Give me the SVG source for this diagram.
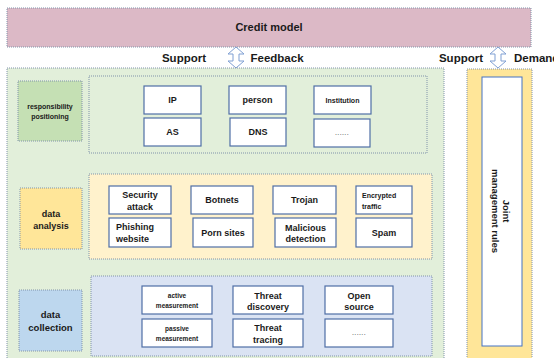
<svg xmlns="http://www.w3.org/2000/svg" width="554" height="358" viewBox="0 0 554 358">
<style>
text{font-family:"Liberation Sans",Arial,sans-serif;font-weight:bold;fill:#1a1a1a;text-anchor:middle}
.dot{stroke:#8093aa;stroke-width:1;stroke-dasharray:1 1}
.box{fill:#fff;stroke:#4f6ea6;stroke-width:1.2}
.arrow{fill:#fff;stroke:#7f9fd3;stroke-width:1}
.ell{font-size:7px;font-weight:normal;letter-spacing:0.4px;fill:#333}
.s7{font-size:7px}.s65{font-size:6.5px}.s9{font-size:9px}.s95{font-size:9.5px}.s11{font-size:11px}.s115{font-size:11.5px}
</style>
<rect width="554" height="358" fill="#fff"/>
<g id="credit-model">
<rect x="7" y="8" width="524" height="39" fill="#dcb9c6" class="dot"/>
<text x="269" y="31" class="s11">Credit model</text>
</g>
<g id="connectors">
<path class="arrow" d="M236,47 L244,54 L239,54 L239,61 L244,61 L236,68 L228,61 L233,61 L233,54 L228,54 Z"/>
<path class="arrow" d="M498,47 L506,54 L501,54 L501,61 L506,61 L498,68 L490,61 L495,61 L495,54 L490,54 Z"/>
<text x="184" y="62" class="s115">Support</text>
<text x="277" y="62" class="s115">Feedback</text>
<text x="461" y="62" class="s115">Support</text>
<text x="514" y="62" class="s115" style="text-anchor:start">Demand</text>
</g>
<g id="main-panel">
<rect x="7" y="68" width="437" height="296" fill="#e2efda" class="dot"/>
</g>
<g id="responsibility-positioning">
<rect x="89" y="76" width="338" height="77" fill="#e2efda" class="dot"/>
<rect x="18" y="81" width="64" height="60" fill="#c5e0b4" class="dot"/>
<text x="50" y="109" class="s7">responsibility</text>
<text x="50" y="119" class="s7">positioning</text>
<rect class="box" x="144" y="86" width="57" height="28"/><text x="172.5" y="103" class="s9">IP</text>
<rect class="box" x="229" y="86" width="57" height="28"/><text x="257.5" y="103" class="s9">person</text>
<rect class="box" x="314" y="86" width="57" height="28"/><text x="342.5" y="102.5" class="s7">Institution</text>
<rect class="box" x="144" y="118" width="57" height="28"/><text x="172.5" y="135" class="s9">AS</text>
<rect class="box" x="230" y="118" width="56" height="28"/><text x="258" y="135" class="s9">DNS</text>
<rect class="box" x="314" y="119" width="56" height="28"/><text x="342" y="135" class="ell">......</text>
</g>
<g id="data-analysis">
<rect x="89" y="174" width="343" height="85" fill="#fff2cc" class="dot"/>
<rect x="20" y="188" width="62" height="61" fill="#ffe699" class="dot"/>
<text x="51" y="217" class="s9">data</text>
<text x="51" y="229" class="s9">analysis</text>
<rect class="box" x="109" y="186" width="62" height="28"/><text x="140" y="198" class="s9">Security</text><text x="140" y="209.5" class="s9">attack</text>
<rect class="box" x="191" y="186" width="62" height="28"/><text x="222" y="203" class="s9">Botnets</text>
<rect class="box" x="273" y="186" width="63" height="28"/><text x="304.5" y="203" class="s9">Trojan</text>
<rect class="box" x="356" y="186" width="56" height="28"/><text x="362" y="197.5" class="s7" style="text-anchor:start">Encrypted</text><text x="362" y="208.5" class="s7" style="text-anchor:start">traffic</text>
<rect class="box" x="109" y="218" width="62" height="29"/><text x="116" y="229.5" class="s9" style="text-anchor:start">Phishing</text><text x="116" y="242" class="s9" style="text-anchor:start">website</text>
<rect class="box" x="193" y="218" width="60" height="29"/><text x="223" y="236" class="s9">Porn sites</text>
<rect class="box" x="275" y="218" width="61" height="29"/><text x="305.5" y="230.5" class="s9">Malicious</text><text x="305.5" y="242" class="s9">detection</text>
<rect class="box" x="356" y="218" width="56" height="29"/><text x="384" y="236" class="s9">Spam</text>
</g>
<g id="data-collection">
<rect x="91" y="276" width="341" height="80" fill="#dae3f3" class="dot"/>
<rect x="19" y="290" width="63" height="61" fill="#bdd7ee" class="dot"/>
<text x="50.5" y="318" class="s95">data</text>
<text x="50.5" y="331" class="s95">collection</text>
<rect class="box" x="142" y="286" width="70" height="28"/><text x="177" y="298" class="s65">active</text><text x="177" y="307.5" class="s65">measurement</text>
<rect class="box" x="233" y="286" width="70" height="28"/><text x="268" y="299" class="s9">Threat</text><text x="268" y="310" class="s9">discovery</text>
<rect class="box" x="325" y="286" width="68" height="28"/><text x="359" y="299" class="s9">Open</text><text x="359" y="310" class="s9">source</text>
<rect class="box" x="142" y="319" width="70" height="28"/><text x="177" y="331" class="s65">passive</text><text x="177" y="340.5" class="s65">measurement</text>
<rect class="box" x="233" y="319" width="70" height="28"/><text x="268" y="331" class="s9">Threat</text><text x="268" y="342.5" class="s9">tracing</text>
<rect class="box" x="325" y="319" width="68" height="28"/><text x="359" y="335" class="ell">......</text>
</g>
<g id="joint-management-rules">
<rect x="467" y="69" width="65" height="295" fill="#ffe699" class="dot"/>
<rect x="482" y="77" width="40" height="269" fill="#fff" stroke="#4472c4" stroke-width="1"/>
<g transform="translate(500,211) rotate(90)">
<text x="0" y="-3" class="s95">Joint</text>
<text x="0" y="8" class="s95">management rules</text>
</g>
</g>
</svg>
